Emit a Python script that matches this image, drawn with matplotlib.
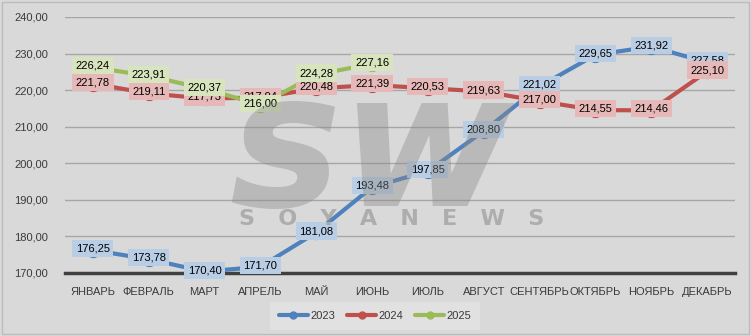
import matplotlib.pyplot as plt
from matplotlib import font_manager

months = ["ЯНВАРЬ", "ФЕВРАЛЬ", "МАРТ", "АПРЕЛЬ", "МАЙ", "ИЮНЬ", "ИЮЛЬ",
          "АВГУСТ", "СЕНТЯБРЬ", "ОКТЯБРЬ", "НОЯБРЬ", "ДЕКАБРЬ"]
y2023 = [176.25, 173.78, 170.40, 171.70, 181.08, 193.48, 197.85, 208.80,
         221.02, 229.65, 231.92, 227.58]
y2024 = [221.78, 219.11, 217.73, 217.94, 220.48, 221.39, 220.53, 219.63,
         217.00, 214.55, 214.46, 225.10]
y2025 = [226.24, 223.91, 220.37, 216.00, 224.28, 227.16]
yticks = [170, 180, 190, 200, 210, 220, 230, 240]

names = {f.name for f in font_manager.fontManager.ttflist}
main_font = 'Liberation Sans Narrow' if 'Liberation Sans Narrow' in names else 'Liberation Sans'
fs = 10 if main_font == 'Liberation Sans Narrow' else 8
plt.rcParams['font.family'] = [main_font, 'DejaVu Sans']

bg = '#d9d9d9'
fig = plt.figure(figsize=(7.51, 3.36), dpi=100, facecolor=bg)
ax = fig.add_axes([65/751, 1-273/336, 670/751, 256/336])
ax.set_facecolor(bg)

# outer frame
fig.patches.append(plt.Rectangle((0.003, 0.005), 0.994, 0.99, transform=fig.transFigure,
                                 fill=False, edgecolor='#bcbcbc', lw=1))

series = [
    ("2023", y2023, '#4f81bd', '#b9cde5'),
    ("2024", y2024, '#c0504d', '#e6b9b8'),
    ("2025", y2025, '#9bbb59', '#d7e4bd'),
]

x_all = list(range(len(months)))
for name, vals, col, lab in series:
    xs = x_all[:len(vals)]
    ax.plot(xs, vals, color=col, lw=3, marker='o', ms=10, label=name,
            solid_capstyle='round', zorder=3)

for name, vals, col, lab in series:
    xs = x_all[:len(vals)]
    for x, v in zip(xs, vals):
        ax.text(x, v + 0.4, f"{v:.2f}".replace('.', ','), ha='center', va='center',
                fontsize=fs, color='black', zorder=5,
                bbox=dict(boxstyle='square,pad=0.32', fc=lab, ec='none'))

# watermark
ax.text(5.0, 202.5, "sw", fontsize=135, fontstyle='italic', fontweight='bold',
        color='#8a8a8a', alpha=0.4, ha='center', va='center', zorder=6,
        family='DejaVu Sans')
ax.text(5.35, 184.8, "S   O   Y   A   N   E   W   S", fontsize=16, fontweight='bold',
        color='#8a8a8a', alpha=0.55, ha='center', va='center', zorder=6,
        family='DejaVu Sans')

ax.set_xlim(-0.5, 11.5)
ax.set_ylim(170, 240)
ax.set_yticks(yticks)
ax.set_yticklabels([f"{t:.2f}".replace('.', ',') for t in yticks], fontsize=fs, color='#3a3a3a')
ax.set_xticks(x_all)
ax.set_xticklabels(months, fontsize=fs, color='#3a3a3a')
ax.tick_params(length=0)
ax.tick_params(axis='x', pad=10)
ax.tick_params(axis='y', pad=12)
ax.grid(axis='y', color='#a6a6a6', lw=1, zorder=0)
for s in ['top', 'right', 'left']:
    ax.spines[s].set_visible(False)
ax.spines['bottom'].set_color('#404040')
ax.spines['bottom'].set_linewidth(2.5)
ax.spines['bottom'].set_zorder(2)

leg = fig.legend(loc='center', bbox_to_anchor=(375/751, 1-316/336), ncol=3, frameon=True,
                 fontsize=fs, handlelength=2.6, markerscale=0.5, borderpad=0.5,
                 columnspacing=1.1, handletextpad=0.2)
leg.get_frame().set_facecolor('#e4e4e4')
leg.get_frame().set_edgecolor('none')
leg.get_frame().set_boxstyle('square')
for t in leg.get_texts():
    t.set_color('#3a3a3a')

fig.savefig('out.png', dpi=100, facecolor=bg)
